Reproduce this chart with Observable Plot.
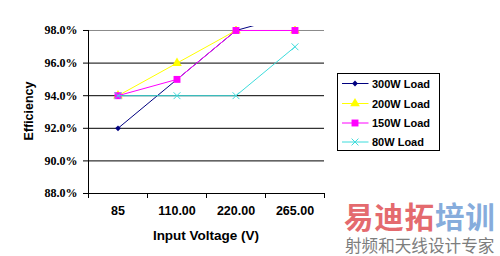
<!DOCTYPE html>
<html>
<head>
<meta charset="utf-8">
<script src="https://cdn.jsdelivr.net/npm/d3@7"></script>
<script src="https://cdn.jsdelivr.net/npm/@observablehq/plot@0.6"></script>
<style>
  html, body { margin: 0; padding: 0; background: #fff; }
  #wrap { position: relative; width: 500px; height: 256px; overflow: hidden; }
  #wrap svg { position: absolute; left: 0; top: 0; }
</style>
</head>
<body>
<div id="wrap"></div>
<script>
// ---- data ----
const categories = ["85", "110.00", "220.00", "265.00"];
const seriesNames = ["300W Load", "200W Load", "150W Load", "80W Load"];
const load300 = [92, 95, 98, 99];
const load200 = [94, 96, 98, 98];
const load150 = [94, 95, 98, 98];
const load80  = [94, 94, 94, 97];
const yTicks = [88, 90, 92, 94, 96, 98];
const seriesColors = ["#000080", "#FFFF00", "#FF00FF", "#3DDCDC"];
const seriesSymbols = ["diamond2", "triangle", "square", "times"];
const seriesR = [2.6, 3.6, 3.9, 3.2];
const yTitle = "Efficiency";
const xTitle = "Input Voltage (V)";
const watermark1a = "易迪拓", watermark1b = "培训", watermark2 = "射频和天线设计专家";

const allValues = [load300, load200, load150, load80];
const data = seriesNames.flatMap((s, si) =>
  allValues[si].map((v, i) => ({series: s, si, idx: i + 0.5, cat: categories[i], value: v})));

const marks = [
  Plot.ruleY(yTicks.filter(d => d > 88 && d < 98), {stroke: "#000", strokeWidth: 1}),
  Plot.ruleY([98], {stroke: "#8a8a8a", strokeWidth: 1}),
  Plot.ruleY([88], {stroke: "#000", strokeWidth: 1}),
  Plot.ruleX([0], {y1: 88, y2: 98, stroke: "#000"}),
  Plot.axisY({ticks: yTicks, tickSize: 5, tickFormat: () => "", label: null}),
  Plot.text(yTicks, {x: 0, y: d => d, text: d => d.toFixed(1) + "%", textAnchor: "end", dx: -11,
    fontFamily: "Liberation Serif", fontWeight: "bold", fontSize: 12, fill: "#000"}),
  Plot.axisX({ticks: [0, 1, 2, 3, 4], tickSize: 5, tickFormat: () => "", label: null}),
  Plot.axisX({ticks: categories.map((c, i) => i + 0.5), tickSize: 0, tickPadding: 13,
    tickFormat: d => categories[Math.floor(d)], fontWeight: "bold",
    fontSize: 12.5, fill: "#000", label: null})
];

seriesNames.forEach((s, si) => {
  const d = data.filter(r => r.si === si);
  marks.push(Plot.line(d, {x: "idx", y: "value", stroke: seriesColors[si], strokeWidth: 1, clip: true}));
  const isStroke = seriesSymbols[si] === "times";
  marks.push(Plot.dot(d, {x: "idx", y: "value", symbol: () => seriesSymbols[si], r: seriesR[si],
    fill: isStroke ? "none" : seriesColors[si], stroke: isStroke ? seriesColors[si] : "none",
    strokeWidth: 1, clip: true}));
});

const chart = Plot.plot({
  width: 500, height: 256,
  marginLeft: 88, marginRight: 176, marginTop: 26, marginBottom: 63,
  x: {type: "linear", domain: [0, 4]},
  y: {domain: [88, 98.245]},
  style: {background: "#fff", overflow: "visible", fontFamily: "Liberation Sans"},
  marks
});
document.getElementById("wrap").appendChild(chart);

const svg = d3.select(chart);

svg.append("text").attr("transform", "translate(33,111) rotate(-90)")
  .attr("text-anchor", "middle").attr("font-family", "Liberation Sans").attr("font-weight", "bold")
  .attr("font-size", 12.5).attr("fill", "#000").text(yTitle);
svg.append("text").attr("x", 206).attr("y", 240)
  .attr("text-anchor", "middle").attr("font-family", "Liberation Sans").attr("font-weight", "bold")
  .attr("font-size", 13.5).attr("fill", "#000").text(xTitle);

// legend
const lg = svg.append("g").attr("transform", "translate(337.5,73.5)");
lg.append("rect").attr("width", 102).attr("height", 77).attr("fill", "#fff").attr("stroke", "#000");
seriesNames.forEach((s, si) => {
  const cy = [10, 30, 49.5, 68.5][si];
  lg.append("line").attr("x1", 4.5).attr("x2", 31).attr("y1", cy).attr("y2", cy)
    .attr("stroke", seriesColors[si]).attr("stroke-width", 1);
  const sym = {diamond2: d3.symbolDiamond2, triangle: d3.symbolTriangle, square: d3.symbolSquare, times: d3.symbolTimes}[seriesSymbols[si]];
  const isStroke = seriesSymbols[si] === "times";
  lg.append("path").attr("transform", `translate(17.5,${cy})`)
    .attr("d", d3.symbol(sym, Math.PI * seriesR[si] * seriesR[si])())
    .attr("fill", isStroke ? "none" : seriesColors[si]).attr("stroke", isStroke ? seriesColors[si] : "none");
  lg.append("text").attr("x", 34.5).attr("y", cy + 4).attr("text-anchor", "start")
    .attr("font-family", "Liberation Sans")
    .attr("font-weight", "bold").attr("font-size", 11).attr("fill", "#000").text(s);
});

// watermark
const wm1 = svg.append("text").attr("x", 344).attr("y", 228).attr("text-anchor", "start")
  .attr("font-family", "Noto Sans CJK SC").attr("font-weight", "bold").attr("font-size", 29.5)
  .attr("letter-spacing", 0.8);
wm1.append("tspan").attr("fill", "#E46A6E").text(watermark1a);
wm1.append("tspan").attr("fill", "#86ACDC").text(watermark1b);
svg.append("text").attr("x", 345).attr("y", 252).attr("text-anchor", "start")
  .attr("font-family", "Noto Sans CJK SC").attr("font-size", 16.6).attr("fill", "#7d7d7d")
  .text(watermark2);
</script>
</body>
</html>
